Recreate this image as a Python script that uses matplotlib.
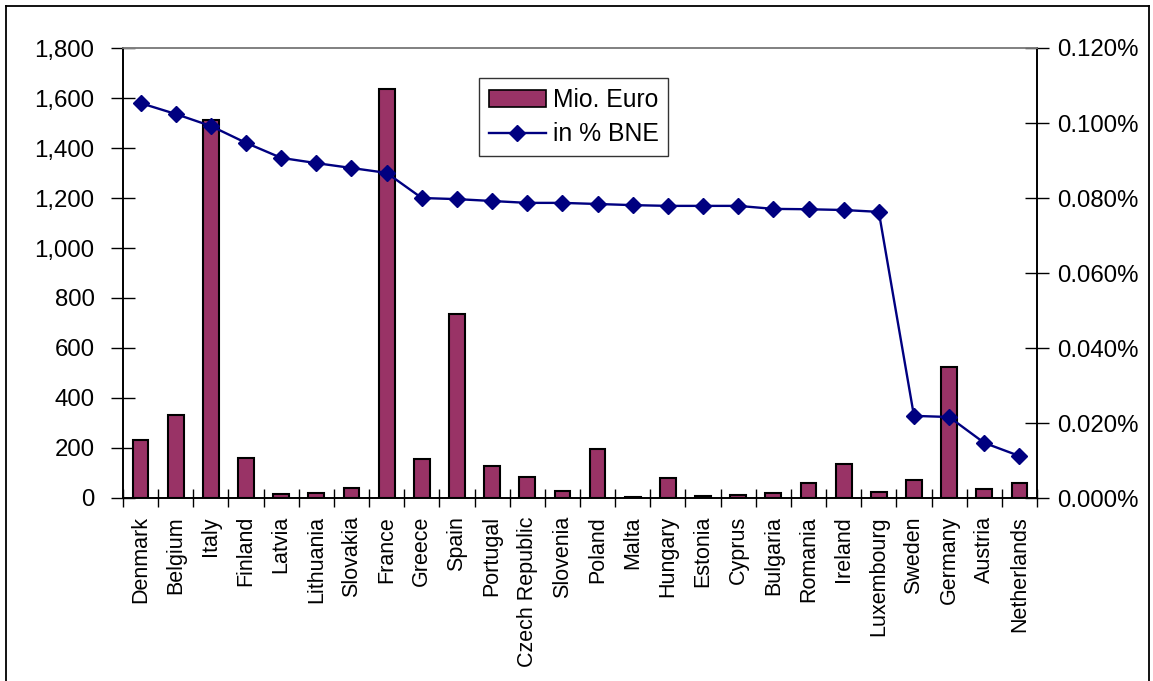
import matplotlib
matplotlib.use("Agg")
import matplotlib.pyplot as plt
from matplotlib.ticker import FuncFormatter, MultipleLocator, FixedLocator
from matplotlib.lines import Line2D
import numpy as np

countries = ["Denmark", "Belgium", "Italy", "Finland", "Latvia", "Lithuania",
             "Slovakia", "France", "Greece", "Spain", "Portugal", "Czech Republic",
             "Slovenia", "Poland", "Malta", "Hungary", "Estonia", "Cyprus",
             "Bulgaria", "Romania", "Ireland", "Luxembourg", "Sweden", "Germany",
             "Austria", "Netherlands"]
mio_euro = [232, 332, 1512, 160, 16, 22, 40, 1636, 156, 736, 128, 84, 28, 196,
            4, 80, 8, 14, 22, 62, 135, 26, 72, 524, 38, 60]
pct_bne = [0.1053, 0.1024, 0.0992, 0.0947, 0.0907, 0.0893, 0.0880, 0.0867,
           0.0800, 0.0797, 0.0792, 0.0787, 0.0787, 0.0784, 0.0781, 0.0779,
           0.0779, 0.0779, 0.0771, 0.0770, 0.0768, 0.0763, 0.0219, 0.0216,
           0.0147, 0.0112]

plt.rcParams["font.family"] = ["Liberation Sans", "DejaVu Sans"]

W, H = 1153, 681
fig = plt.figure(figsize=(W / 100, H / 100), dpi=100)
fig.patch.set_facecolor("white")

# plot area in pixel coordinates
left, right, top, bottom = 123, 1037, 48, 498
ax = fig.add_axes([left / W, 1 - bottom / H, (right - left) / W, (bottom - top) / H])
ax2 = ax.twinx()

x = np.arange(len(countries))
bar_color = "#993366"
line_color = "#000080"

ax.bar(x, mio_euro, width=0.45, color=bar_color, edgecolor="black",
       linewidth=1.5, zorder=2)
ax2.plot(x, pct_bne, color=line_color, linewidth=1.7, marker="D",
         markersize=7.8, markerfacecolor=line_color, markeredgecolor=line_color,
         zorder=3)

ax.set_xlim(-0.5, len(countries) - 0.5)
ax.set_ylim(0, 1800)
ax2.set_ylim(0, 0.12)

ax.yaxis.set_major_locator(MultipleLocator(200))
ax.yaxis.set_major_formatter(FuncFormatter(lambda v, p: f"{v:,.0f}"))
ax2.yaxis.set_major_locator(MultipleLocator(0.02))
ax2.yaxis.set_major_formatter(FuncFormatter(lambda v, p: f"{v:.3f}%"))

ax.set_xticks(x)
ax.set_xticklabels(countries, rotation=90, ha="center", va="top")
ax.xaxis.set_minor_locator(FixedLocator(np.arange(-0.5, len(countries) + 0.5, 1.0)))
ax.tick_params(axis="x", which="major", length=0, pad=13, labelsize=15.5)
ax.tick_params(axis="x", which="minor", direction="inout", length=13, width=1)
ax.tick_params(axis="y", direction="inout", length=17, width=1, pad=12,
               labelsize=17.3)
ax2.tick_params(axis="y", direction="inout", length=17, width=1, pad=6,
                labelsize=17.3)

for a in (ax, ax2):
    for side in ("left", "right", "bottom"):
        a.spines[side].set_color("black")
        a.spines[side].set_linewidth(1.2)
    a.spines["top"].set_color("#808080")
    a.spines["top"].set_linewidth(1.2)

ax.set_zorder(1)
ax2.set_zorder(2)
ax2.patch.set_visible(False)

handles = [
    plt.Rectangle((0, 0), 1, 1, facecolor=bar_color, edgecolor="black", linewidth=1.2),
    Line2D([0], [0], color=line_color, linewidth=1.7, marker="D", markersize=7.8,
           markerfacecolor=line_color, markeredgecolor=line_color),
]
leg = ax2.legend(handles, ["Mio. Euro", "in % BNE"], loc="upper left",
                 bbox_to_anchor=((479 - left) / (right - left), 1 - (78 - top) / (bottom - top)),
                 fontsize=17.8, frameon=True, fancybox=False, borderpad=0.4,
                 handlelength=2.3, handletextpad=0.28, labelspacing=0.42,
                 borderaxespad=0)
leg.get_frame().set_edgecolor("black")
leg.get_frame().set_linewidth(1.0)

# outer chart border
fig.add_artist(Line2D([6 / W, 6 / W], [0, 1 - 6 / H], transform=fig.transFigure,
                      color="black", linewidth=1.3))
fig.add_artist(Line2D([1149 / W, 1149 / W], [0, 1 - 6 / H], transform=fig.transFigure,
                      color="black", linewidth=1.3))
fig.add_artist(Line2D([6 / W, 1149 / W], [1 - 6 / H, 1 - 6 / H], transform=fig.transFigure,
                      color="black", linewidth=1.3))

fig.savefig("out.png", dpi=100)
